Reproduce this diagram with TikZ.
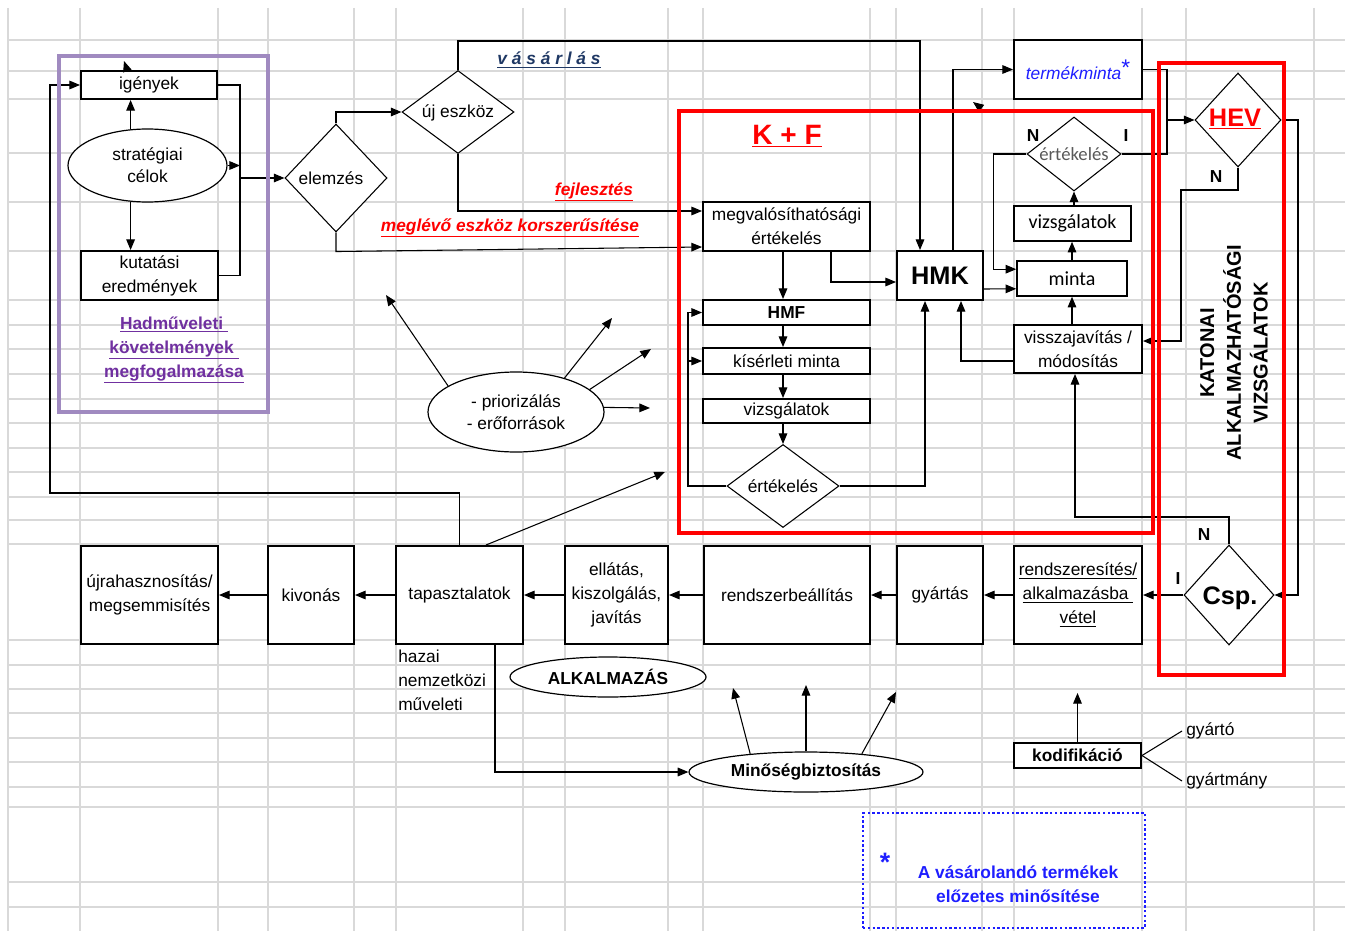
\documentclass[tikz,border=0pt]{standalone}
\usepackage{fontspec}
\setmainfont{Liberation Sans}
\newfontfamily\carlitofont{Carlito}
\usetikzlibrary{shapes.geometric,arrows.meta,calc}
\definecolor{gridc}{RGB}{217,217,217}
\definecolor{purpbox}{RGB}{160,138,192}
\definecolor{purptxt}{RGB}{112,48,160}
\definecolor{kfred}{RGB}{255,0,0}
\definecolor{navy}{RGB}{31,56,100}
\definecolor{tblue}{RGB}{30,30,255}
\definecolor{ertgray}{RGB}{89,89,89}
\newcommand\nf{\fontsize{13}{18}\selectfont}
\begin{document}
\begin{tikzpicture}[x=0.75pt,y=-0.75pt,
 sz/.style 2 args={minimum width=#1*0.75pt,minimum height=#2*0.75pt},
 box/.style={draw,line width=1.5pt,fill=white,inner sep=0pt,align=center,font=\nf},
 dia/.style={diamond,draw,line width=0.8pt,fill=white,inner sep=0pt},
 ell/.style={ellipse,draw,line width=0.9pt,fill=white,inner sep=0pt,align=center,font=\nf},
 conn/.style={line width=0.8pt},
 arr/.style={conn,-{Triangle[length=8pt,width=6.5pt]}},
 txt/.style={inner sep=0pt,align=center,font=\nf},
 lbl/.style={inner sep=0pt,font=\nf\bfseries},
]
\useasboundingbox (0,0) rectangle (1345,931);
\fill[white] (0,0) rectangle (1345,931);
% spreadsheet grid
\foreach \x in {8,80,218,268,354,396,523,565,668,703,870,896,982,1014,1142,1186,1314}
  \draw[gridc,line width=1.1pt] (\x,8) -- (\x,931);
\foreach \y in {40,71,99,153,202,251,300,325,349,374,399,423,448,472,497,520,544,640,665,689,713,738,762,787,807,882,907}
  \draw[gridc,line width=1.1pt] (8,\y) -- (1345,\y);

% ---- left block
\node[box,sz={136}{28}] (igen) at (149,85) {igények};
\node[ell,sz={159}{73},font=\fontsize{13}{16.5}\selectfont] (strat) at (147.5,165.5) {stratégiai\\célok};
\node[box,sz={137}{49}] (kut) at (149.5,275.5) {kutatási\\eredmények};
\node[txt,font=\nf\bfseries,text=purptxt] (hadm) at (174,350) {\underline{Hadműveleti\ }\\\underline{követelmények\ }\\\underline{megfogalmazása}};

\node[dia,sz={102}{108}] (elemzes) at (336,178) {};
\node[txt] (elemzesT) at ($(elemzes)+(-5,0)$) {elemzés};
\node[dia,sz={112}{83}] (ujeszk) at (458,112) {};
\node[txt] (ujeszkT) at ($(ujeszk)+(0,1)$) {új eszköz};

\node[txt,font=\nf\bfseries\itshape,text=navy] (vasar) at (549,60) {\underline{v á s á r l á s}};
\node[txt,font=\nf\bfseries\itshape,text=kfred] (fejl) at (594,192) {\underline{fejlesztés}};
\node[txt,font=\nf\bfseries\itshape,text=kfred] (megl) at (510,228) {\underline{meglévő eszköz korszerűsítése}};

\node[ell,sz={176}{80},font=\fontsize{13}{16.5}\selectfont] (prior) at (516,412) {- priorizálás\\- erőforrások};

% ---- K+F block
\node[txt,font=\fontsize{21}{24}\selectfont\bfseries,text=kfred] (kftitle) at (787,136) {\underline{K + F}};
\node[box,sz={167}{49}] (megval) at (786.5,226.5) {megvalósíthatósági\\értékelés};
\node[box,sz={167}{25},font=\nf\bfseries] (hmf) at (786.5,312.5) {HMF};
\node[box,sz={167}{26}] (kis) at (786.5,361) {kísérleti minta};
\node[box,sz={167}{24}] (vizs1) at (786.5,411) {vizsgálatok};
\node[dia,sz={112}{83}] (ert1) at (783,486) {};
\node[txt] (ert1T) at (ert1) {értékelés};
\node[box,sz={86}{49},font=\fontsize{19}{22}\selectfont\bfseries] (hmk) at (940,275.5) {HMK};

% ---- right block
\node[box,sz={128}{59}] (termek) at (1078,69.5) {\textcolor{tblue}{\itshape termékminta}\raisebox{3pt}{\textcolor{tblue}{\fontsize{17}{17}\selectfont *}}};
\node[dia,sz={94}{74}] (ert2) at (1074,154) {};
\node[txt,font=\carlitofont\fontsize{14}{16}\selectfont,text=ertgray] (ert2T) at (ert2) {értékelés};
\node[lbl] (ert2N) at (1033,136) {N};
\node[lbl] (ert2I) at (1126,136) {I};
\node[box,line width=1.2pt,sz={117}{35},font=\carlitofont\fontsize{15}{17}\selectfont] (vizs2) at (1072.5,223.5) {vizsgálatok};
\node[box,line width=1.2pt,sz={110}{35},font=\carlitofont\fontsize{15}{17}\selectfont] (minta) at (1072,278.5) {minta};
\node[box,sz={128}{48}] (vissza) at (1078,349) {visszajavítás /\\módosítás};
\node[dia,sz={86}{94}] (hev) at (1238,120) {};
\node[txt,font=\fontsize{19}{22}\selectfont\bfseries,text=kfred] (hevT) at ($(hev)+(-3,-1)$) {\underline{HEV}};
\node[lbl] (hevN) at (1216,177) {N};
\node[txt,rotate=90,font=\fontsize{15}{20}\selectfont\bfseries] (katT) at (1234,353) {KATONAI\\ALKALMAZHATÓSÁGI\\VIZSGÁLATOK};
\node[dia,sz={90}{100}] (csp) at (1229,595) {};
\node[txt,font=\fontsize{19}{22}\selectfont\bfseries] (cspT) at ($(csp)+(1,3)$) {Csp.};
\node[lbl] (cspN) at (1204,535) {N};
\node[lbl] (cspI) at (1178,579) {I};

% ---- bottom row
\node[box,sz={128}{98}] (rendszeres) at (1078,595) {\underline{rendszeresítés/}\\\underline{alkalmazásba\ }\\\underline{vétel}};
\node[box,sz={86}{98}] (gyart) at (940,595) {gyártás};
\node[box,sz={166}{98}] (rendsz) at (787,595) {rendszerbeállítás};
\node[box,sz={103}{98}] (ellat) at (616.5,595) {ellátás,\\kiszolgálás,\\javítás};
\node[box,sz={127}{98}] (tapasz) at (459.5,595) {tapasztalatok};
\node[box,sz={86}{98}] (kivon) at (311,595) {kivonás};
\node[box,sz={137}{98}] (ujra) at (149.5,595) {újrahasznosítás/\\megsemmisítés};
\node[txt,anchor=north west,align=left] (hazai) at (398,650) {hazai\\nemzetközi\\műveleti};

\node[ell,sz={196}{40},font=\nf\bfseries] (alk) at (608,677) {ALKALMAZÁS};
\node[ell,sz={234}{40},font=\nf\bfseries] (minoseg) at (806,772) {Minőségbiztosítás};
\node[box,sz={127}{25},font=\nf\bfseries] (kodif) at (1077.5,755.5) {kodifikáció};
\node[txt,anchor=west,inner sep=3pt] (gyarto) at (1182,731) {gyártó};
\node[txt,anchor=west,inner sep=3pt] (gyartmany) at (1182,781) {gyártmány};

\node[draw=tblue,line width=1.8pt,dash pattern=on 1.8pt off 1.8pt,sz={282}{115},inner sep=0pt] (note) at (1004,870.5) {};
\node[txt,font=\nf\bfseries,text=tblue] (noteT) at (1018,884) {A vásárolandó termékek\\előzetes minősítése};
\node[txt,font=\fontsize{20}{20}\selectfont\bfseries,text=tblue] (star) at (885,862) {*};

% ---- coordinates for free ends / bends
\coordinate (lb) at (50,493);
\coordinate (sa) at (124,61);
\coordinate (rb) at (240,178);
\coordinate (vt) at (920,41);
\coordinate (lp) at (688,0);
\coordinate (sb) at (973,102);
\coordinate (tj) at (1167,0);
\coordinate (hn) at (1181,190);
\coordinate (cn) at (1075,517);
\coordinate (hr) at (1298,0);
\coordinate (dg) at (665,472);
\coordinate (p1) at (386,295);
\coordinate (p2) at (612,318);
\coordinate (p3) at (651,349);
\coordinate (p4) at (650,408);
\coordinate (m1) at (733,688);
\coordinate (m2) at (806,685);
\coordinate (m3) at (896,692);
\coordinate (k1) at (1077.5,693);

% ---- connectors left
\draw[arr] (tapasz.north) |- (lb) |- (igen.west);
\draw[arr] ($(igen.north west)+(47,0)$) -- (sa);
\draw[arr] (strat.115) -- (strat.115 |- igen.south);
\draw[arr] (strat.245) -- (strat.245 |- kut.north);
\draw[conn] (igen.east) -| (rb) |- (kut.east);
\draw[arr] (strat.east) -- (strat.east -| rb);
\draw[arr] (rb) -- (elemzes.west);
\draw[arr] (elemzes.north) |- (ujeszk.west);
\draw[arr] (ujeszk.north) |- (vt) -- (vt |- hmk.north);
\draw[arr] (ujeszk.south) |- ($(megval.north west)+(0,10)$);
\draw[arr] (elemzes.south) -- ++(0,19) -- ($(megval.south west)+(0,-5)$);

% ---- K+F connectors
\draw[arr] (megval.south -| ert1.center) -- (hmf.north -| ert1.center);
\draw[arr] (hmf.south -| ert1.center) -- (kis.north -| ert1.center);
\draw[arr] (kis.south -| ert1.center) -- (vizs1.north -| ert1.center);
\draw[arr] (vizs1.south -| ert1.center) -- (ert1.north);
\draw[arr] ($(megval.south west)+(129,0)$) |- ($(hmk.south west)+(0,-19)$);
\draw[arr] (ert1.west) -- (ert1.west -| lp) |- (hmf.west);
\draw[arr] (lp |- kis.west) -- (kis.west);
\draw[arr] (ert1.east) -| ($(hmk.south west)+(29,0)$);
\draw[arr] ($(vissza.south west)+(0,-13)$) -| ($(hmk.south west)+(65,0)$);
\draw[arr] ($(hmk.north west)+(57,0)$) |- (termek.west);
\draw[arr] ($(hmk.north west)+(85,-142)$) -- (sb);

% ---- right connectors
\draw[arr] (termek.east) -| (tj |- hev.west) -- (hev.west);
\draw[conn] (ert2.east) -| (tj |- hev.west);
\draw[arr] (ert2.south |- vizs2.north) -- (ert2.south);
\draw[arr] (minta.north) -- (minta.north |- vizs2.south);
\draw[arr] (ert2.west) -| ($(minta.north west)+(-23,9)$) -- ($(minta.north west)+(0,9)$);
\draw[arr] ($(hmk.south east)+(0,-12)$) -- ($(minta.south west)+(0,-8)$);
\draw[arr] (minta.south |- vissza.north) -- (minta.south);
\draw[arr] (hev.south) |- (hn) |- ($(vissza.north east)+(0,17)$);
\draw[arr] (csp.north) |- (cn) -- (cn |- vissza.south);
\draw[arr] (hev.east) -| (hr |- csp.east) -- (csp.east);
\draw[arr] (csp.west) -- (rendszeres.east);

% ---- bottom chain
\draw[arr] (rendszeres.west) -- (gyart.east);
\draw[arr] (gyart.west) -- (rendsz.east);
\draw[arr] (rendsz.west) -- (ellat.east);
\draw[arr] (ellat.west) -- (tapasz.east);
\draw[arr] (tapasz.west) -- (kivon.east);
\draw[arr] (kivon.west) -- (ujra.east);
\draw[arr] ($(tapasz.north west)+(91,0)$) -- (dg);
\draw[arr] ($(tapasz.south west)+(100,0)$) |- (minoseg.west);

% ---- priorities
\draw[arr] (prior.159) -- (p1);
\draw[arr] (prior.35) -- (p2);
\draw[arr] (prior.17) -- (p3);
\draw[arr] (prior.3) -- (p4);

% ---- quality assurance
\draw[arr] (minoseg.162) -- (m1);
\draw[arr] (minoseg.north) -- (m2);
\draw[arr] (minoseg.18) -- (m3);
\draw[arr] (kodif.north) -- (k1);
\draw[conn] (kodif.east) -- (gyarto.west);
\draw[conn] (kodif.east) -- (gyartmany.west);

% ---- frames
\draw[purpbox,line width=3pt] (59,56) rectangle (268,412);
\draw[kfred,line width=3pt] (679,111) rectangle (1153,533);
\draw[kfred,line width=3pt] (1159,63) rectangle (1284,675);
\end{tikzpicture}
\end{document}
